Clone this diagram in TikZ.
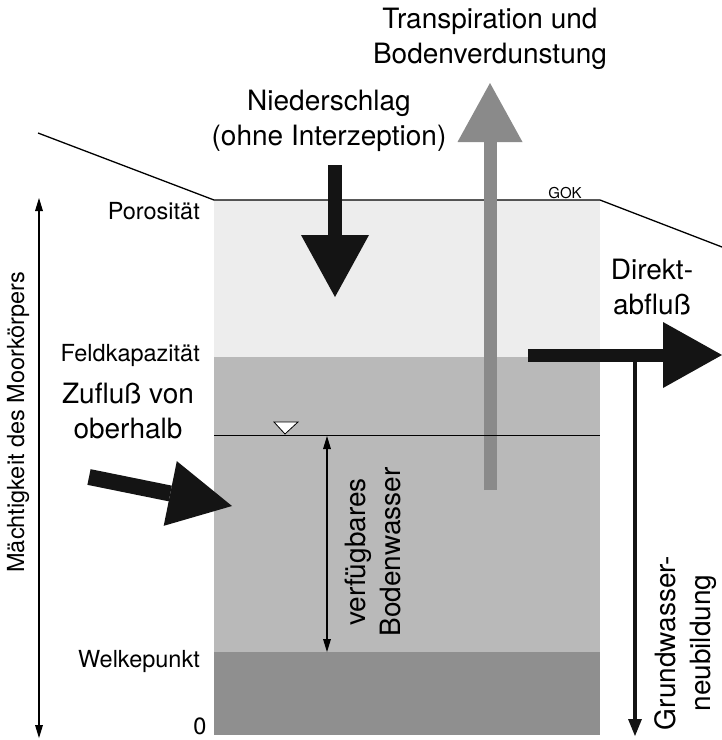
\documentclass[tikz,border=0pt]{standalone}
\usepackage{fontspec}
\setmainfont{TeX Gyre Heros}
\usepackage{tikz}
\usetikzlibrary{arrows.meta}
\definecolor{porenschicht}{HTML}{EDEDED}
\definecolor{wasserschicht}{HTML}{B9B9B9}
\definecolor{totschicht}{HTML}{8F8F8F}
\definecolor{transgrau}{HTML}{8A8A8A}
\definecolor{pfeilschwarz}{HTML}{141414}

\begin{document}
\begin{tikzpicture}[x=1pt,y=-1pt,
	lbl/.style={inner sep=0pt,font=\fontsize{23.5}{28}\selectfont},
	big/.style={inner sep=0pt,align=center,font=\fontsize{28}{35}\selectfont},
	flow/.style={pfeilschwarz,line width=14pt,-{Triangle[width=68pt,length=62pt,line width=0pt]}},
	dimarrow/.style={line width=1.2pt,{Triangle[width=8pt,length=13pt,line width=0pt]}-{Triangle[width=8pt,length=13pt,line width=0pt]}}]
	\useasboundingbox (0,0) rectangle (722,740);
	
	\fill[porenschicht] (214,200) rectangle (600,357);
	\fill[wasserschicht] (214,357) rectangle (600,652);
	\fill[totschicht] (214,652) rectangle (600,735);
	
	\draw[line width=1.3pt] (38,133)--(214,200)--(600,200)--(722,247);
	\node (gok) at (565,193)[inner sep=0pt,font=\fontsize{15}{18}\selectfont] {GOK};
	
	% Bilanzpfeile
	\coordinate (transunten) at (490,490);
	\coordinate (transoben) at (490,83);
	\draw[flow,transgrau,line width=13pt,-{Triangle[width=65pt,length=59pt,line width=0pt]}] (transunten)--(transoben);
	
	\coordinate (niedoben) at (335,165);
	\coordinate (niedunten) at (335,297);
	\draw[flow] (niedoben)--(niedunten);
	
	\coordinate (direktlinks) at (528,355);
	\coordinate (direktrechts) at (722,355);
	\draw[flow,line width=13pt,-{Triangle[width=66pt,length=59pt,line width=0pt]}] (direktlinks)--(direktrechts);
	
	\coordinate (zuflussaussen) at (89,477);
	\coordinate (zuflussinnen) at (232,506);
	\draw[flow,line width=16pt,-{Triangle[width=66pt,length=63pt,line width=0pt]}] (zuflussaussen)--(zuflussinnen);
	
	\coordinate (gwoben) at (635,362);
	\coordinate (gwunten) at (635,736);
	\draw[pfeilschwarz,line width=4.5pt,-{Triangle[width=14pt,length=17pt,line width=0pt]}] (gwoben)--(gwunten);
	
	% Grundwasserspiegel
	\coordinate (gwslinks) at (214,435);
	\coordinate (gwsrechts) at (600,435);
	\draw[line width=1pt] (gwslinks)--(gwsrechts);
	\draw[fill=white,line width=0.8pt] (274,422)--(298,422)--(285,434)--cycle;
	
	\coordinate (mobenA) at (39,198);
	\coordinate (muntenA) at (39,738);
	\draw[dimarrow] (mobenA)--(muntenA);
	\coordinate (bwoben) at (327,436);
	\coordinate (bwunten) at (327,652);
	\draw[dimarrow] (bwoben)--(bwunten);
	
	\node (poro) at (200,211)[lbl,anchor=east] {Porosität};
	\node (feld) at (200,355)[lbl,anchor=east] {Feldkapazität};
	\node (welke) at (200,661)[lbl,anchor=east] {Welkepunkt};
	\node (null) at (200,726)[lbl] {0};
	\node (maecht) at (18,422)[lbl,rotate=90] {Mächtigkeit des Moorkörpers};
	
	\node (trans) at (490,39)[big] {Transpiration und\\Bodenverdunstung};
	\node (nied) at (329,121)[big] {Niederschlag\\(ohne Interzeption)};
	\node (direkt) at (652,287)[big] {Direkt-\\abfluß};
	\node (zufluss) at (128,411)[big] {Zufluß von\\oberhalb};
	\node (bodenw) at (373,552)[big,rotate=90] {verfügbares\\Bodenwasser};
	\node (gwneu) at (686,643)[big,rotate=90] {Grundwasser-\\neubildung};
\end{tikzpicture}
\end{document}
